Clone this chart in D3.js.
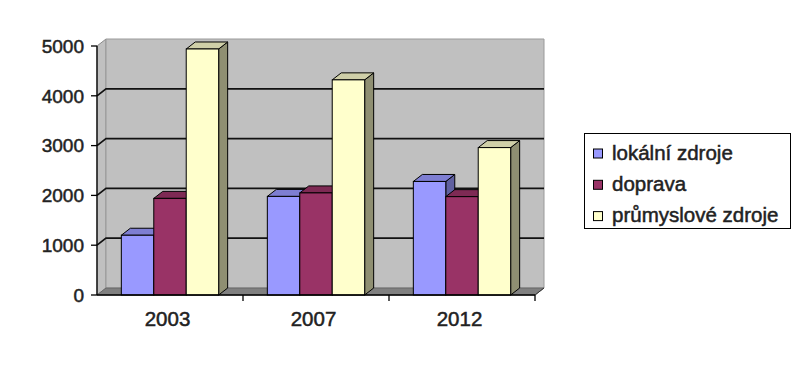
<!DOCTYPE html>
<html>
<head>
<meta charset="utf-8">
<script src="https://cdn.jsdelivr.net/npm/d3@7"></script>
<style>
  html, body { margin: 0; padding: 0; background: #fff; }
  svg { display: block; }
  text { font-family: "Liberation Sans", Arial, sans-serif; fill: #222; stroke: #222; stroke-width: 0.5px; }
</style>
</head>
<body>
<svg id="chart" width="812" height="367"></svg>
<script>
// data
const years = ["2003", "2007", "2012"];
const seriesNames = ["lokální zdroje", "doprava", "průmyslové zdroje"];
const lokalni = [1200, 1980, 2280];
const doprava = [1940, 2050, 1975];
const prumyslove = [4940, 4320, 2960];
const yTicks = [0, 1000, 2000, 3000, 4000, 5000];
const colors = ["#9999ff", "#993366", "#ffffcc"];

const seriesValues = [lokalni, doprava, prumyslove];

const svg = d3.select("#chart");
const DX = 9, DY = -7;           // depth of the 3d box
const plotLeft = 97, plotRight = 535, plotBottom = 295, plotTop = 46;

const y = d3.scaleLinear().domain([0, 5000]).range([plotBottom, plotTop]);
const x0 = d3.scaleBand().domain(years).range([plotLeft, plotRight]).padding(0);
const x1 = d3.scaleBand().domain(seriesNames).range([0, x0.bandwidth()])
  .paddingInner(0).paddingOuter(0.75);

const pts = p => p.map(d => d.join(",")).join(" ");

// walls
svg.append("polygon")
  .attr("points", pts([[plotLeft, y(5000)], [plotLeft + DX, y(5000) + DY], [plotLeft + DX, y(0) + DY], [plotLeft, y(0)]]))
  .attr("fill", "#c0c0c0").attr("stroke", "#8a8a8a").attr("stroke-width", 1);
svg.append("polygon")
  .attr("points", pts([[plotLeft + DX, y(5000) + DY], [plotRight + DX, y(5000) + DY], [plotRight + DX, y(0) + DY], [plotLeft + DX, y(0) + DY]]))
  .attr("fill", "#c0c0c0").attr("stroke", "#9a9a9a").attr("stroke-width", 1);
// floor
svg.append("polygon")
  .attr("points", pts([[plotLeft, y(0)], [plotRight, y(0)], [plotRight + DX, y(0) + DY], [plotLeft + DX, y(0) + DY]]))
  .attr("fill", "#808080").attr("stroke", "#606060").attr("stroke-width", 0.8);

// gridlines
svg.append("g")
  .selectAll("path")
  .data(yTicks.filter(v => v > 0 && v < 5000))
  .join("path")
  .attr("d", v => `M${plotLeft},${y(v)} L${plotLeft + DX},${y(v) + DY} L${plotRight + DX},${y(v) + DY}`)
  .attr("fill", "none")
  .attr("stroke", "#111")
  .attr("stroke-width", 1.7);

// bars
const shade = (c, k) => d3.rgb(c).darker(k).formatHex();
years.forEach((yr, i) => {
  const g = svg.append("g");
  seriesNames.forEach((s, j) => {
    const v = seriesValues[j][i];
    const bx = x0(yr) + x1(s), bw = x1.bandwidth();
    const yt = y(v), yb = y(0);
    // side
    g.append("polygon")
      .attr("points", pts([[bx + bw, yt], [bx + bw + DX, yt + DY], [bx + bw + DX, yb + DY], [bx + bw, yb]]))
      .attr("fill", j === 2 ? "#8f8f72" : shade(colors[j], 1.3))
      .attr("stroke", "#000").attr("stroke-width", 1);
    // top
    g.append("polygon")
      .attr("points", pts([[bx, yt], [bx + DX, yt + DY], [bx + bw + DX, yt + DY], [bx + bw, yt]]))
      .attr("fill", j === 2 ? "#cfcfa8" : shade(colors[j], 0.55))
      .attr("stroke", "#000").attr("stroke-width", 1);
    // front
    g.append("rect")
      .attr("x", bx).attr("y", yt)
      .attr("width", bw).attr("height", yb - yt)
      .attr("fill", colors[j])
      .attr("stroke", "#000").attr("stroke-width", 1);
  });
});

// y axis
const yAxis = svg.append("g");
yAxis.append("line")
  .attr("x1", plotLeft).attr("x2", plotLeft).attr("y1", y(5000)).attr("y2", y(0))
  .attr("stroke", "#000").attr("stroke-width", 1.3);
yAxis.selectAll(".tk").data(yTicks).join("line")
  .attr("x1", plotLeft - 6).attr("x2", plotLeft).attr("y1", d => y(d)).attr("y2", d => y(d))
  .attr("stroke", "#000").attr("stroke-width", 1.3);
yAxis.selectAll("text").data(yTicks).join("text")
  .attr("x", 84).attr("y", d => y(d)).attr("dy", "0.36em")
  .attr("text-anchor", "end")
  .attr("font-size", "19px")
  .text(d => d);

// x axis
const xAxis = svg.append("g");
xAxis.append("line")
  .attr("x1", plotLeft).attr("x2", plotRight).attr("y1", y(0)).attr("y2", y(0))
  .attr("stroke", "#000").attr("stroke-width", 1.3);
xAxis.append("line")
  .attr("x1", plotRight).attr("x2", plotRight + DX).attr("y1", y(0)).attr("y2", y(0) + DY)
  .attr("stroke", "#333").attr("stroke-width", 1);
xAxis.selectAll(".tk").data(years.slice(1).concat(["end"])).join("line")
  .attr("x1", d => d === "end" ? plotRight : x0(d)).attr("x2", d => d === "end" ? plotRight : x0(d))
  .attr("y1", y(0)).attr("y2", y(0) + 6)
  .attr("stroke", "#000").attr("stroke-width", 1.3);
xAxis.selectAll("text").data(years).join("text")
  .attr("x", d => x0(d) + x0.bandwidth() / 2 - 2.5)
  .attr("y", 326)
  .attr("text-anchor", "middle")
  .attr("font-size", "20.5px")
  .text(d => d);

// legend
const legend = svg.append("g");
legend.append("rect")
  .attr("x", 584.5).attr("y", 133.5).attr("width", 206).attr("height", 95)
  .attr("fill", "#fff").attr("stroke", "#000").attr("stroke-width", 1);
const item = legend.selectAll(".item").data(seriesNames).join("g")
  .attr("transform", (d, i) => `translate(0,${159.5 + i * 31.3})`);
item.append("rect")
  .attr("x", 593.5).attr("y", -10.5).attr("width", 9).attr("height", 9)
  .attr("fill", (d, i) => colors[i]).attr("stroke", "#000").attr("stroke-width", 1);
item.append("text")
  .attr("x", 612).attr("y", 0)
  .attr("font-size", "20.5px")
  .text(d => d);
</script>
</body>
</html>
